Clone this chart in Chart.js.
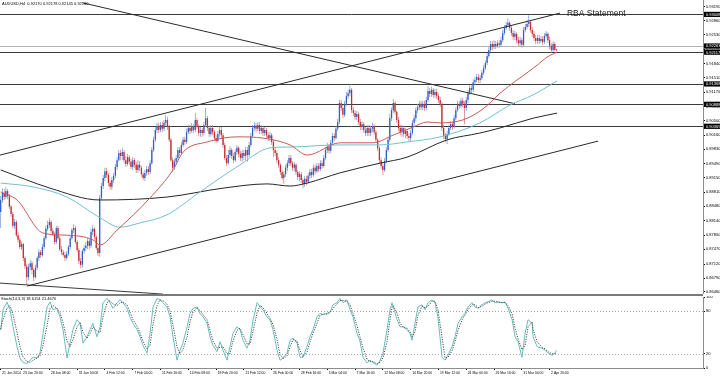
<!DOCTYPE html>
<html><head><meta charset="utf-8">
<script src="https://cdn.jsdelivr.net/npm/chart.js"></script>
<style>
html,body{margin:0;padding:0;background:#fff;width:720px;height:376px;overflow:hidden;position:relative}
#c1{position:absolute;left:0;top:0}
#sep{position:absolute;left:0;top:294px;width:703px;height:2px;background:#7a7a7a}
#c2{position:absolute;left:0;top:296px}
</style></head><body>
<canvas id="c1" width="720" height="294"></canvas>
<div id="sep"></div>
<canvas id="c2" width="720" height="80"></canvas>
<script>
// ---------- DATA (AUDUSD H4) ----------
const open = [
0.8835,0.8863,0.8880,0.8870,0.8884,0.8872,0.8847,0.8830,0.8802,0.8811,
0.8780,0.8769,0.8752,0.8759,0.8726,0.8707,0.8681,0.8705,0.8714,0.8698,
0.8681,0.8703,0.8726,0.8740,0.8733,0.8752,0.8773,0.8795,0.8804,0.8811,
0.8790,0.8783,0.8764,0.8797,0.8773,0.8747,0.8740,0.8733,0.8726,0.8736,
0.8752,0.8773,0.8792,0.8797,0.8764,0.8745,0.8719,0.8710,0.8743,0.8750,
0.8755,0.8766,0.8755,0.8788,0.8795,0.8776,0.8750,0.8738,0.8868,0.8896,
0.8915,0.8931,0.8922,0.8903,0.8894,0.8910,0.8920,0.8941,0.8957,0.8974,
0.8967,0.8976,0.8957,0.8948,0.8964,0.8953,0.8941,0.8957,0.8946,0.8934,
0.8946,0.8939,0.8924,0.8915,0.8927,0.8936,0.8929,0.8950,0.8981,0.9005,
0.9028,0.9038,0.9028,0.9040,0.9031,0.9045,0.9052,0.9035,0.9005,0.8957,
0.8939,0.8953,0.8962,0.8981,0.8974,0.8993,0.9005,0.9000,0.9023,0.9033,
0.9026,0.9035,0.9028,0.9052,0.9038,0.9021,0.9028,0.9021,0.9040,0.9056,
0.9033,0.9019,0.9033,0.9023,0.9009,0.9002,0.9019,0.9028,0.9016,0.8993,
0.8962,0.8950,0.8969,0.8981,0.8967,0.8957,0.8976,0.8986,0.8972,0.8962,
0.8974,0.8967,0.8981,0.8969,0.8993,0.9014,0.9033,0.9038,0.9031,0.9040,
0.9026,0.9033,0.9021,0.9028,0.9016,0.9009,0.9016,0.9000,0.8981,0.8974,
0.8957,0.8946,0.8929,0.8915,0.8924,0.8939,0.8950,0.8962,0.8950,0.8939,
0.8946,0.8929,0.8917,0.8924,0.8910,0.8901,0.8913,0.8906,0.8920,0.8929,
0.8922,0.8939,0.8931,0.8943,0.8936,0.8950,0.8943,0.8962,0.8981,0.8988,
0.8979,0.8998,0.9014,0.9009,0.9031,0.9047,0.9092,0.9080,0.9064,0.9090,
0.9108,0.9115,0.9123,0.9075,0.9068,0.9059,0.9066,0.9047,0.9035,0.9042,
0.9028,0.9021,0.9033,0.9021,0.9031,0.9035,0.9023,0.9005,0.8986,0.8957,
0.8943,0.8934,0.8955,0.8981,0.9005,0.9056,0.9075,0.9092,0.9071,0.9052,
0.9033,0.9023,0.9033,0.9019,0.9026,0.9014,0.9009,0.9021,0.9045,0.9056,
0.9075,0.9082,0.9090,0.9082,0.9090,0.9080,0.9099,0.9120,0.9113,0.9123,
0.9111,0.9118,0.9108,0.9099,0.9090,0.9033,0.9014,0.9007,0.9019,0.9033,
0.9042,0.9035,0.9056,0.9075,0.9090,0.9085,0.9097,0.9090,0.9080,0.9099,
0.9115,0.9127,0.9123,0.9141,0.9146,0.9153,0.9146,0.9151,0.9163,0.9174,
0.9186,0.9203,0.9217,0.9231,0.9224,0.9231,0.9226,0.9233,0.9229,0.9240,
0.9257,0.9269,0.9276,0.9281,0.9269,0.9257,0.9248,0.9255,0.9240,0.9233,
0.9240,0.9229,0.9264,0.9271,0.9278,0.9283,0.9264,0.9255,0.9245,0.9238,
0.9245,0.9238,0.9243,0.9236,0.9250,0.9255,0.9240,0.9226,0.9217,0.9231,0.92170];
const high = [
0.8872,0.8891,0.8889,0.8894,0.8889,0.8877,0.8851,0.8835,0.8818,0.8816,
0.8788,0.8773,0.8766,0.8762,0.8731,0.8712,0.8712,0.8722,0.8719,0.8703,
0.8710,0.8731,0.8747,0.8745,0.8759,0.8778,0.8802,0.8814,0.8821,0.8816,
0.8797,0.8788,0.8802,0.8802,0.8778,0.8755,0.8745,0.8740,0.8743,0.8757,
0.8778,0.8797,0.8806,0.8802,0.8769,0.8750,0.8726,0.8747,0.8757,0.8764,
0.8773,0.8773,0.8795,0.8804,0.8799,0.8780,0.8755,0.8875,0.8903,0.8922,
0.8939,0.8939,0.8927,0.8908,0.8917,0.8927,0.8948,0.8964,0.8981,0.8981,
0.8986,0.8981,0.8967,0.8972,0.8969,0.8960,0.8964,0.8962,0.8953,0.8957,
0.8955,0.8943,0.8929,0.8934,0.8943,0.8943,0.8957,0.8988,0.9012,0.9035,
0.9045,0.9045,0.9047,0.9047,0.9052,0.9064,0.9059,0.9040,0.9009,0.8964,
0.8960,0.8969,0.8988,0.8988,0.9000,0.9012,0.9012,0.9031,0.9040,0.9040,
0.9045,0.9042,0.9068,0.9056,0.9042,0.9035,0.9033,0.9047,0.9080,0.9061,
0.9038,0.9040,0.9040,0.9028,0.9016,0.9026,0.9035,0.9035,0.9021,0.8998,
0.8969,0.8981,0.8990,0.8986,0.8974,0.8983,0.8993,0.8990,0.8979,0.8981,
0.8981,0.8988,0.8988,0.9000,0.9021,0.9040,0.9047,0.9045,0.9047,0.9047,
0.9040,0.9038,0.9035,0.9033,0.9023,0.9023,0.9021,0.9005,0.8988,0.8979,
0.8964,0.8950,0.8934,0.8931,0.8946,0.8957,0.8969,0.8969,0.8955,0.8953,
0.8950,0.8934,0.8931,0.8929,0.8915,0.8920,0.8920,0.8927,0.8936,0.8936,
0.8946,0.8946,0.8950,0.8950,0.8957,0.8957,0.8969,0.8988,0.8998,0.8995,
0.9005,0.9021,0.9021,0.9038,0.9054,0.9099,0.9099,0.9087,0.9097,0.9118,
0.9123,0.9132,0.9127,0.9082,0.9075,0.9073,0.9071,0.9054,0.9049,0.9047,
0.9035,0.9040,0.9040,0.9038,0.9045,0.9042,0.9028,0.9009,0.8990,0.8964,
0.8950,0.8962,0.8988,0.9012,0.9066,0.9082,0.9101,0.9097,0.9075,0.9059,
0.9040,0.9040,0.9038,0.9033,0.9031,0.9021,0.9028,0.9052,0.9064,0.9082,
0.9090,0.9097,0.9097,0.9097,0.9097,0.9106,0.9132,0.9127,0.9130,0.9127,
0.9125,0.9125,0.9115,0.9106,0.9094,0.9040,0.9021,0.9026,0.9040,0.9049,
0.9049,0.9064,0.9082,0.9097,0.9097,0.9104,0.9104,0.9097,0.9106,0.9123,
0.9134,0.9134,0.9148,0.9153,0.9160,0.9160,0.9158,0.9170,0.9181,0.9193,
0.9210,0.9224,0.9238,0.9238,0.9240,0.9238,0.9240,0.9240,0.9248,0.9264,
0.9276,0.9283,0.9292,0.9285,0.9276,0.9264,0.9262,0.9259,0.9248,0.9248,
0.9245,0.9271,0.9278,0.9288,0.9299,0.9288,0.9271,0.9262,0.9252,0.9252,
0.9252,0.9250,0.9250,0.9257,0.9262,0.9259,0.9248,0.9233,0.9238,0.9236,0.92178];
const low = [
0.8797,0.8856,0.8863,0.8865,0.8865,0.8842,0.8823,0.8797,0.8795,0.8776,
0.8762,0.8747,0.8745,0.8719,0.8700,0.8663,0.8674,0.8698,0.8688,0.8672,
0.8677,0.8698,0.8719,0.8726,0.8729,0.8747,0.8769,0.8790,0.8797,0.8785,
0.8778,0.8759,0.8759,0.8769,0.8743,0.8733,0.8729,0.8719,0.8722,0.8731,
0.8747,0.8769,0.8785,0.8759,0.8740,0.8712,0.8703,0.8703,0.8736,0.8743,
0.8747,0.8747,0.8750,0.8780,0.8769,0.8745,0.8731,0.8729,0.8863,0.8889,
0.8908,0.8915,0.8896,0.8887,0.8887,0.8903,0.8915,0.8934,0.8953,0.8957,
0.8957,0.8950,0.8941,0.8943,0.8946,0.8936,0.8934,0.8939,0.8927,0.8927,
0.8931,0.8917,0.8910,0.8908,0.8920,0.8922,0.8924,0.8946,0.8976,0.9000,
0.9021,0.9021,0.9023,0.9023,0.9026,0.9038,0.9028,0.9000,0.8953,0.8929,
0.8934,0.8946,0.8957,0.8967,0.8969,0.8988,0.8993,0.8995,0.9019,0.9019,
0.9021,0.9021,0.9023,0.9031,0.9014,0.9012,0.9012,0.9016,0.9035,0.9026,
0.9012,0.9012,0.9016,0.9002,0.8998,0.8998,0.9012,0.9009,0.8986,0.8957,
0.8943,0.8946,0.8962,0.8960,0.8950,0.8953,0.8969,0.8964,0.8955,0.8953,
0.8957,0.8957,0.8953,0.8964,0.8988,0.9009,0.9026,0.9023,0.9026,0.9019,
0.9019,0.9014,0.9014,0.9009,0.9002,0.9002,0.8993,0.8964,0.8967,0.8950,
0.8939,0.8922,0.8910,0.8901,0.8917,0.8931,0.8943,0.8943,0.8931,0.8931,
0.8922,0.8910,0.8908,0.8903,0.8891,0.8894,0.8898,0.8901,0.8913,0.8915,
0.8917,0.8924,0.8927,0.8929,0.8931,0.8936,0.8939,0.8957,0.8974,0.8972,
0.8974,0.8993,0.9002,0.9005,0.9026,0.9042,0.9073,0.9056,0.9059,0.9085,
0.9101,0.9108,0.9068,0.9061,0.9052,0.9052,0.9040,0.9028,0.9028,0.9021,
0.9014,0.9014,0.9014,0.9014,0.9023,0.9016,0.8998,0.8979,0.8950,0.8936,
0.8922,0.8929,0.8950,0.8976,0.9000,0.9049,0.9068,0.9064,0.9045,0.9026,
0.9016,0.9012,0.9012,0.9009,0.9007,0.9002,0.9002,0.9016,0.9038,0.9049,
0.9068,0.9075,0.9075,0.9075,0.9073,0.9075,0.9094,0.9106,0.9106,0.9104,
0.9104,0.9101,0.9092,0.9082,0.9026,0.9007,0.9000,0.8995,0.9014,0.9028,
0.9028,0.9031,0.9052,0.9071,0.9078,0.9080,0.9082,0.9042,0.9073,0.9092,
0.9111,0.9115,0.9118,0.9134,0.9141,0.9139,0.9139,0.9146,0.9158,0.9170,
0.9181,0.9198,0.9212,0.9217,0.9219,0.9219,0.9222,0.9222,0.9224,0.9236,
0.9252,0.9264,0.9271,0.9262,0.9250,0.9240,0.9240,0.9233,0.9226,0.9226,
0.9222,0.9224,0.9259,0.9266,0.9271,0.9259,0.9248,0.9238,0.9231,0.9231,
0.9231,0.9233,0.9229,0.9231,0.9245,0.9233,0.9219,0.9210,0.9212,0.9215,0.92145];
const close = [
0.8863,0.8880,0.8870,0.8884,0.8872,0.8847,0.8830,0.8802,0.8811,0.8780,
0.8769,0.8752,0.8759,0.8726,0.8707,0.8681,0.8705,0.8714,0.8698,0.8681,
0.8703,0.8726,0.8740,0.8733,0.8752,0.8773,0.8795,0.8804,0.8811,0.8790,
0.8783,0.8764,0.8797,0.8773,0.8747,0.8740,0.8733,0.8726,0.8736,0.8752,
0.8773,0.8792,0.8797,0.8764,0.8745,0.8719,0.8710,0.8743,0.8750,0.8755,
0.8766,0.8755,0.8788,0.8795,0.8776,0.8750,0.8738,0.8868,0.8896,0.8915,
0.8931,0.8922,0.8903,0.8894,0.8910,0.8920,0.8941,0.8957,0.8974,0.8967,
0.8976,0.8957,0.8948,0.8964,0.8953,0.8941,0.8957,0.8946,0.8934,0.8946,
0.8939,0.8924,0.8915,0.8927,0.8936,0.8929,0.8950,0.8981,0.9005,0.9028,
0.9038,0.9028,0.9040,0.9031,0.9045,0.9052,0.9035,0.9005,0.8957,0.8939,
0.8953,0.8962,0.8981,0.8974,0.8993,0.9005,0.9000,0.9023,0.9033,0.9026,
0.9035,0.9028,0.9052,0.9038,0.9021,0.9028,0.9021,0.9040,0.9056,0.9033,
0.9019,0.9033,0.9023,0.9009,0.9002,0.9019,0.9028,0.9016,0.8993,0.8962,
0.8950,0.8969,0.8981,0.8967,0.8957,0.8976,0.8986,0.8972,0.8962,0.8974,
0.8967,0.8981,0.8969,0.8993,0.9014,0.9033,0.9038,0.9031,0.9040,0.9026,
0.9033,0.9021,0.9028,0.9016,0.9009,0.9016,0.9000,0.8981,0.8974,0.8957,
0.8946,0.8929,0.8915,0.8924,0.8939,0.8950,0.8962,0.8950,0.8939,0.8946,
0.8929,0.8917,0.8924,0.8910,0.8901,0.8913,0.8906,0.8920,0.8929,0.8922,
0.8939,0.8931,0.8943,0.8936,0.8950,0.8943,0.8962,0.8981,0.8988,0.8979,
0.8998,0.9014,0.9009,0.9031,0.9047,0.9092,0.9080,0.9064,0.9090,0.9108,
0.9115,0.9123,0.9075,0.9068,0.9059,0.9066,0.9047,0.9035,0.9042,0.9028,
0.9021,0.9033,0.9021,0.9031,0.9035,0.9023,0.9005,0.8986,0.8957,0.8943,
0.8934,0.8955,0.8981,0.9005,0.9056,0.9075,0.9092,0.9071,0.9052,0.9033,
0.9023,0.9033,0.9019,0.9026,0.9014,0.9009,0.9021,0.9045,0.9056,0.9075,
0.9082,0.9090,0.9082,0.9090,0.9080,0.9099,0.9120,0.9113,0.9123,0.9111,
0.9118,0.9108,0.9099,0.9090,0.9033,0.9014,0.9007,0.9019,0.9033,0.9042,
0.9035,0.9056,0.9075,0.9090,0.9085,0.9097,0.9090,0.9080,0.9099,0.9115,
0.9127,0.9123,0.9141,0.9146,0.9153,0.9146,0.9151,0.9163,0.9174,0.9186,
0.9203,0.9217,0.9231,0.9224,0.9231,0.9226,0.9233,0.9229,0.9240,0.9257,
0.9269,0.9276,0.9281,0.9269,0.9257,0.9248,0.9255,0.9240,0.9233,0.9240,
0.9229,0.9264,0.9271,0.9278,0.9283,0.9264,0.9255,0.9245,0.9238,0.9245,
0.9238,0.9243,0.9236,0.9250,0.9255,0.9240,0.9226,0.9217,0.9231,0.9217,0.92160];

// moving averages (bar position, price)
const maFastAt = [0,9.4,24.4,38.2,53.1,57.2,67,86,99.2,105,118.8,136,151,166.6,176.4,195.3,214.3,225.9,237.4,245.4,252.9,266.1,277.7,287.5,297.2,303,308.8,314.5,320.3];
const maFast   = [0.8882,0.8863,0.8785,0.8780,0.8769,0.8757,0.8792,0.8868,0.8934,0.8976,0.9000,0.9012,0.9009,0.8993,0.8969,0.8998,0.8998,0.9016,0.9035,0.9047,0.9045,0.9052,0.9078,0.9115,0.9146,0.9163,0.9181,0.9200,0.9212];
const maMidAt  = [0,18.6,38.2,57.2,68.7,80.2,95.7,114.7,137.8,155,166.6,195.3,218.4,233.9,252.9,275.9,293.2,306.5,320.3];
const maMid    = [0.8903,0.8894,0.8870,0.8821,0.8799,0.8809,0.8828,0.8882,0.8946,0.8986,0.8988,0.8993,0.8993,0.9000,0.9012,0.9045,0.9087,0.9111,0.9144];
const maSlowAt = [0,28.4,57.2,95.7,128,153.3,166.6,176.4,195.3,218.4,233.9,257,275.9,287.5,306.5,320.3];
const maSlow   = [0.8934,0.8891,0.8863,0.8870,0.8891,0.8901,0.8896,0.8903,0.8927,0.8950,0.8964,0.9005,0.9021,0.9033,0.9056,0.9068];

// trend lines (bar position, price)
const trendDownAt = [47.4,296.1],  trendDown = [0.9328,0.9090];
const chanTopAt   = [-0.4,322.0],  chanTop   = [0.8969,0.9304];
const chanLowAt   = [15.2,343.9],  chanLow   = [0.8660,0.9002];
const baseLineAt  = [-0.4,93.4],   baseLine  = [0.8667,0.8641];

// horizontal levels
const hLevels = [0.93008,0.92263,0.92117,0.91368,0.90888,0.90369];

// price axis tick labels
const priceTicks = [0.93190,0.92860,0.92530,0.92190,0.91840,0.91510,0.91170,0.90830,0.90500,0.90160,0.89830,0.89490,0.89150,0.88810,0.88480,0.88140,0.87800,0.87470,0.87120,0.86790,0.86460];

// time axis
const dateLabels = ["21 Jan 2014","23 Jan 20:00","28 Jan 08:00","31 Jan 00:00","4 Feb 12:00","7 Feb 04:00","11 Feb 16:00","14 Feb 08:00","18 Feb 20:00","21 Feb 12:00","26 Feb 00:00","28 Feb 16:00","5 Mar 04:00","7 Mar 16:00","12 Mar 08:00","14 Mar 20:00","19 Mar 12:00","24 Mar 00:00","26 Mar 16:00","31 Mar 04:00","2 Apr 20:00"];
const dateAt = [0,12,28,44,60,76,92,108,124,140,156,172,188,204,220,236,252,268,284,300,316];

// stochastic (14,3,3)
const stochAt = [0,1.3,3.6,5.4,7.1,9.4,11.1,12.8,15.1,16.9,18.6,20.9,22.6,24.4,26.7,28.4,30.1,32.4,34.1,35.9,38.2,39.9,41.6,43.9,45.7,47.4,49.7,51.4,53.1,55.4,57.2,58.9,61.2,62.9,64.7,67,68.7,70.4,72.7,74.4,76.2,78.5,80.2,81.9,84.2,86,87.7,90,91.7,93.4,95.7,97.5,99.2,101.5,103.2,104.9,107.3,109,110.7,113,114.7,116.5,118.8,120.5,122.2,124.5,126.3,128,130.3,132,133.7,136,137.8,139.5,141.8,143.5,145.3,147.6,149.3,151,153.3,155,156.8,159.1,160.8,162.5,164.8,166.6,168.3,170.6,172.3,174,176.3,178.1,179.8,182.1,183.8,185.6,187.9,189.6,191.3,193.6,195.3,197.1,199.4,201.1,202.8,205.1,206.8,208.6,210.9,212.6,214.3,216.6,218.4,220.1,222.4,224.1,225.3,226,228.2,229.9,231.6,233.9,235.6,236.8,238.5,240.2,242.5,244.3,246,248.3,250,251.7,254.1,255.8,257.5,259.8,261.5,263.3,265.6,267.3,269,271.3,273.1,274.8,277.1,278.8,280.5,282.8,284.6,286.3,288.6,290.3,292.1,294.4,296.1,297.8,300.1,301.9,303.6,305.9,306.5,308.8,311.6,313.4,315.1,317.4,319.1,320];
const stochK = [53,82,93,82,58,30,14,8,6,11,15,14,21,49,86,93,82,84,72,54,14,35,54,68,63,35,44,54,63,44,58,92,98,92,84,92,96,92,84,72,63,54,44,32,21,49,86,98,96,92,86,72,44,11,25,35,58,77,84,86,77,72,63,44,32,23,37,25,11,30,49,58,54,39,28,39,68,92,86,82,72,68,54,25,11,14,21,39,42,35,15,15,30,44,54,72,77,75,77,79,89,92,98,92,96,82,72,49,38,15,7,11,8,4,11,21,54,82,92,86,68,58,58,54,49,39,63,86,89,82,92,96,92,72,15,11,18,30,44,63,72,77,86,92,86,84,89,92,93,96,92,93,92,93,84,68,44,37,15,49,68,63,44,30,28,25,21,18,21,25];
const stochD = [55,68,84,88,75,50,30,16,9,8,11,14,17,32,60,84,88,84,78,64,38,30,40,58,64,50,42,48,58,52,50,72,92,95,90,88,92,93,89,79,68,59,49,38,27,32,62,88,96,95,90,80,60,30,20,26,44,65,79,85,81,75,68,53,38,28,29,30,20,20,38,53,56,47,34,34,52,78,88,85,77,70,61,40,19,13,17,30,40,38,25,16,22,37,49,63,74,76,76,78,84,90,95,95,94,89,77,60,44,28,12,9,9,6,8,15,37,68,85,88,77,63,58,56,51,44,51,74,87,85,87,94,94,82,43,14,15,24,37,53,68,75,82,89,89,85,87,90,92,94,94,93,92,92,88,76,56,41,26,32,58,65,54,37,29,27,23,20,20,22];
const stochTicks = [0,20,80,100];
const stochLevels = [20,80];

// ---------- DRAWING ----------
const FONT = 'Liberation Sans';
const BULL = '#2f5fc4', BEAR = '#c42a2e', BULL_W = '#6f8fd6', BEAR_W = '#d37477';
const pts = (xs, ys) => xs.map((x, i) => ({x, y: ys[i]}));
const up = i => close[i] >= open[i];
const wickData = open.map((o, i) => ({x: i, y: [low[i], high[i]]}));
const bodyData = open.map((o, i) => ({x: i, y: [Math.min(o, close[i]), Math.max(o, close[i])]}));
const X_MIN = -0.4, X_MAX = 404.3;

const lineDs = (data, color, extra) => Object.assign({type: 'line', data, borderColor: color, borderWidth: 1, pointRadius: 0, fill: false, order: 0}, extra || {});

const mainOverlay = {
  id: 'mainOverlay',
  beforeDatasetsDraw(chart) {
    const {ctx, chartArea: a, scales: {y}} = chart;
    ctx.save();
    hLevels.forEach((p, k) => {
      const yy = Math.round(y.getPixelForValue(p)) + 0.5;
      ctx.strokeStyle = k === 1 ? '#b4b4b4' : '#3c3c3c';
      ctx.lineWidth = 1;
      ctx.beginPath(); ctx.moveTo(a.left, yy); ctx.lineTo(a.right, yy); ctx.stroke();
    });
    ctx.restore();
  },
  afterDraw(chart) {
    const {ctx, chartArea: a, scales: {x, y}} = chart;
    ctx.save();
    // header
    ctx.fillStyle = '#000';
    ctx.font = '4px "' + FONT + '"';
    ctx.textBaseline = 'middle'; ctx.textAlign = 'left';
    ctx.fillText('AUDUSD,H4  0.92170 0.92178 0.92145 0.92160', 2, 4);
    // annotation
    ctx.font = '8.5px "' + FONT + '"';
    ctx.fillStyle = '#1a1a1a';
    ctx.fillText('RBA Statement', x.getPixelForValue(326), y.getPixelForValue(0.9302));
    // price boxes on the axis
    ctx.font = '4px "' + FONT + '"';
    hLevels.forEach(p => {
      const yy = y.getPixelForValue(p);
      ctx.fillStyle = '#000';
      ctx.fillRect(a.right + 1, yy - 2.6, 720 - a.right - 1, 5.2);
      ctx.fillStyle = '#fff';
      ctx.fillText(p.toFixed(5), a.right + 3, yy + 0.2);
    });
    ctx.restore();
  }
};

new Chart(document.getElementById('c1'), {
  type: 'bar',
  data: {datasets: [
    lineDs(pts(maFastAt, maFast), '#c55a55', {tension: 0.4, cubicInterpolationMode: 'monotone'}),
    lineDs(pts(maMidAt, maMid), '#74bfcf', {tension: 0.4, cubicInterpolationMode: 'monotone'}),
    lineDs(pts(maSlowAt, maSlow), '#262626', {tension: 0.4, cubicInterpolationMode: 'monotone'}),
    lineDs(pts(trendDownAt, trendDown), '#2a2a2a'),
    lineDs(pts(chanTopAt, chanTop), '#2a2a2a'),
    lineDs(pts(chanLowAt, chanLow), '#2a2a2a'),
    lineDs(pts(baseLineAt, baseLine), '#3a3a3a'),
    {type: 'bar', data: bodyData, backgroundColor: c => up(c.dataIndex) ? BULL : BEAR,
     barThickness: 1.3, grouped: false, minBarLength: 1, inflateAmount: 0, borderWidth: 0, order: 1},
    {type: 'bar', data: wickData, backgroundColor: c => up(c.dataIndex) ? BULL_W : BEAR_W,
     barThickness: 0.7, grouped: false, inflateAmount: 0, borderWidth: 0, order: 2}
  ]},
  options: {
    responsive: false, animation: false, events: [],
    layout: {padding: 0},
    plugins: {legend: {display: false}, tooltip: {enabled: false}},
    scales: {
      x: {type: 'linear', min: X_MIN, max: X_MAX, display: false, offset: false},
      y: {position: 'right', min: 0.864128, max: 0.933484, bounds: 'data',
          afterBuildTicks: s => { s.ticks = priceTicks.map(v => ({value: v})); },
          afterFit: s => { s.width = 17; s.paddingTop = 0; s.paddingBottom = 0; },
          ticks: {autoSkip: false, padding: 1, color: '#000', font: {family: FONT, size: 4},
                  callback: v => Number(v).toFixed(5)},
          grid: {display: true, drawOnChartArea: false, drawTicks: true, tickLength: 2, color: '#000'},
          border: {display: true, color: '#8c8c8c'}}
    }
  },
  plugins: [mainOverlay]
});

const stochOverlay = {
  id: 'stochOverlay',
  beforeDatasetsDraw(chart) {
    const {ctx, chartArea: a, scales: {y}} = chart;
    ctx.save();
    ctx.strokeStyle = '#a8a8a8'; ctx.lineWidth = 1; ctx.setLineDash([1, 2]);
    stochLevels.forEach(v => {
      const yy = Math.round(y.getPixelForValue(v)) + 0.5;
      ctx.beginPath(); ctx.moveTo(a.left, yy); ctx.lineTo(a.right, yy); ctx.stroke();
    });
    ctx.restore();
  },
  afterDraw(chart) {
    const {ctx} = chart;
    ctx.save();
    ctx.fillStyle = '#000'; ctx.font = '4px "' + FONT + '"';
    ctx.textBaseline = 'middle'; ctx.textAlign = 'left';
    ctx.fillText('Stoch(14,3,3) 18.6154 21.4670', 1, 3);
    ctx.restore();
  }
};

new Chart(document.getElementById('c2'), {
  type: 'line',
  data: {datasets: [
    {data: pts(stochAt, stochK), borderColor: '#68bcbc', borderWidth: 1, pointRadius: 0, tension: 0, order: 1},
    {data: pts(stochAt, stochD), borderColor: '#4a4a4a', borderWidth: 1, borderDash: [1.2, 1.3], pointRadius: 0, tension: 0, order: 0}
  ]},
  options: {
    responsive: false, animation: false, events: [],
    layout: {padding: {top: 1, left: 0, right: 0, bottom: 0}},
    plugins: {legend: {display: false}, tooltip: {enabled: false}},
    scales: {
      x: {type: 'linear', min: X_MIN, max: X_MAX, offset: false, bounds: 'data',
          afterBuildTicks: s => { s.ticks = dateAt.map(v => ({value: v})); },
          afterFit: s => { s.height = 8; s.paddingLeft = 0; s.paddingRight = 0; },
          ticks: {autoSkip: false, maxRotation: 0, minRotation: 0, align: 'start', padding: 1.5, labelOffset: 1.5,
                  color: '#000', font: {family: FONT, size: 3.4},
                  callback: (v, i) => dateLabels[i]},
          grid: {display: true, drawOnChartArea: false, drawTicks: true, tickLength: 2, color: '#000'},
          border: {display: true, color: '#8c8c8c'}},
      y: {position: 'right', min: 0, max: 100, bounds: 'data',
          afterBuildTicks: s => { s.ticks = stochTicks.map(v => ({value: v})); },
          afterFit: s => { s.width = 17; s.paddingTop = 0; s.paddingBottom = 0; },
          ticks: {autoSkip: false, padding: 1, color: '#000', font: {family: FONT, size: 4}},
          grid: {display: true, drawOnChartArea: false, drawTicks: true, tickLength: 2, color: '#000'},
          border: {display: true, color: '#8c8c8c'}}
    }
  },
  plugins: [stochOverlay]
});
</script>
</body></html>
